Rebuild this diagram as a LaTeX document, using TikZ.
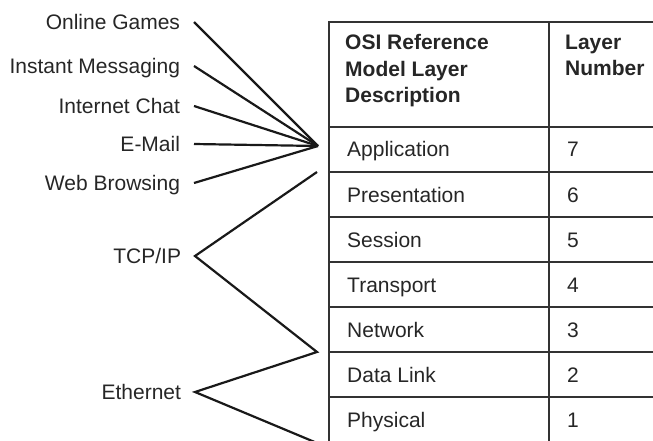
\documentclass[tikz,border=0pt]{standalone}
\usepackage{fontspec}
\setmainfont{Liberation Sans}
\begin{document}
\begin{tikzpicture}[x=1pt,y=-1pt,
  txt/.style={font=\fontsize{21}{26.5}\selectfont, text=black!85},
  lbl/.style={txt, anchor=east, inner sep=0pt, outer xsep=14pt, text height=15pt, text depth=0pt},
  cell/.style={txt, anchor=west, inner sep=0pt, text height=15pt, text depth=0pt},
  hdr/.style={txt, font=\fontsize{21}{26.5}\selectfont\bfseries, anchor=north west, align=left, inner sep=0pt},
  wire/.style={line width=2.2pt, draw=black!90, line join=miter},
  grid/.style={line width=2.2pt, draw=black!80}]
\useasboundingbox (0,0) rectangle (653,441);
% labels
\node[lbl] (og) at (194,22) {Online Games};
\node[lbl] (im) at (194,66) {Instant Messaging};
\node[lbl] (ic) at (194,106) {Internet Chat};
\node[lbl] (em) at (194,144) {E-Mail};
\node[lbl] (wb) at (194,183) {Web Browsing};
\node[lbl] (tcp) at (195,256) {TCP/IP};
\node[lbl] (eth) at (195,392) {Ethernet};
% connector points
\coordinate (apx) at (318,146);
\coordinate (t1) at (317,172);
\coordinate (mid) at (317,352);
\coordinate (e2) at (317,443);
\draw[wire] (og.east) -- (apx);
\draw[wire] (im.east) -- (apx);
\draw[wire] (ic.east) -- (apx);
\draw[wire] (em.east) -- (apx);
\draw[wire] (wb.east) -- (apx);
\draw[wire] (t1) -- (tcp.east) -- (mid) -- (eth.east) -- (e2);
% table
\draw[grid] (656,22) -- (329,22) -- (329,443);
\draw[grid] (549,22) -- (549,443);
\foreach \yy in {127,172,217,262,307,352,397}
  \draw[grid] (329,\yy) -- (656,\yy);
% header
\node[hdr] (h1) at (345,34.5) {OSI Reference\\Model Layer\\Description};
\node[hdr] (h2) at (565,34.5) {Layer\\Number};
% rows
\node[cell] (r7) at (347,149.5) {Application};
\node[cell] (n7) at (567,149.5) {7};
\node[cell] (r6) at (347,194.5) {Presentation};
\node[cell] (n6) at (567,194.5) {6};
\node[cell] (r5) at (347,239.5) {Session};
\node[cell] (n5) at (567,239.5) {5};
\node[cell] (r4) at (347,284.5) {Transport};
\node[cell] (n4) at (567,284.5) {4};
\node[cell] (r3) at (347,329.5) {Network};
\node[cell] (n3) at (567,329.5) {3};
\node[cell] (r2) at (347,374.5) {Data Link};
\node[cell] (n2) at (567,374.5) {2};
\node[cell] (r1) at (347,419.5) {Physical};
\node[cell] (n1) at (567,419.5) {1};
\end{tikzpicture}
\end{document}
